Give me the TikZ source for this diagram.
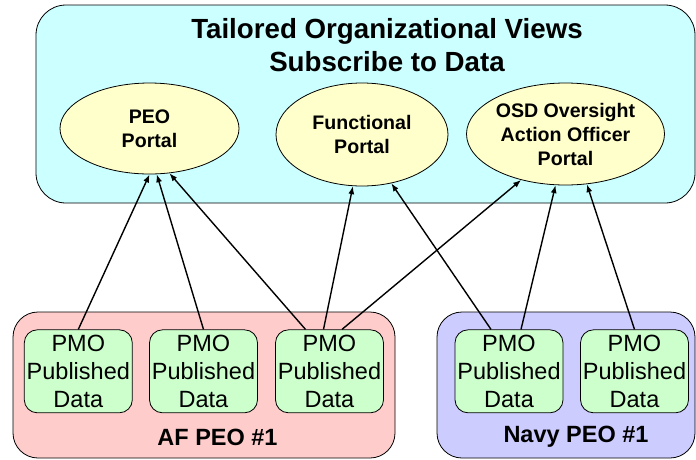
\documentclass[tikz,border=0pt]{standalone}
\usepackage{fontspec}
\setmainfont{Liberation Sans}
\usetikzlibrary{shapes.geometric,arrows.meta}
\definecolor{viewfill}{HTML}{CCFFFF}
\definecolor{portalfill}{HTML}{FFFFCC}
\definecolor{affill}{HTML}{FFCCCC}
\definecolor{navyfill}{HTML}{CCCCFF}
\definecolor{pmofill}{HTML}{CCFFCC}
\begin{document}
\begin{tikzpicture}[x=1pt,y=-1pt,
  panel/.style={draw=black, line width=0.8pt, rounded corners=#1, inner sep=0pt},
  portal/.style={ellipse, draw=black, line width=0.8pt, fill=portalfill, inner sep=0pt,
    align=center, font=\fontsize{19.6}{24}\selectfont\bfseries},
  pmo/.style={draw=black, line width=0.8pt, fill=pmofill, rounded corners=13pt,
    minimum width=108pt, minimum height=83pt, inner sep=0pt, align=center,
    font=\fontsize{23.5}{28.3}\selectfont},
  grouplabel/.style={font=\fontsize{23.5}{28}\selectfont\bfseries},
  link/.style={line width=1.4pt, -{Latex[length=8pt,width=6pt]}}
]
\useasboundingbox (0,0) rectangle (696,459);

% panels
\node[panel=30pt, fill=viewfill, minimum width=659pt, minimum height=198pt] (views) at (365.5,104) {};
\node[panel=25pt, fill=affill, minimum width=382pt, minimum height=146pt] (af) at (204,385) {};
\node[panel=25pt, fill=navyfill, minimum width=258pt, minimum height=146pt] (navy) at (566,385) {};

% title
\node[align=center, font=\fontsize{27.7}{33}\selectfont\bfseries] (title) at (387,45.5)
  {Tailored Organizational Views\\Subscribe to Data};

% portals
\node[portal, minimum width=179pt, minimum height=91pt] (peo) at (149.5,128.5) {PEO\\Portal};
\node[portal, minimum width=172pt, minimum height=103pt] (func) at (362,134.5) {Functional\\Portal};
\node[portal, minimum width=198pt, minimum height=102pt] (osd) at (565.5,134) {OSD Oversight\\Action Officer\\Portal};

% PMO boxes
\node[pmo] (p1) at (78.3,371.3) {PMO\\Published\\Data};
\node[pmo] (p2) at (203.5,371.3) {PMO\\Published\\Data};
\node[pmo] (p3) at (329.5,371.3) {PMO\\Published\\Data};
\node[pmo] (p4) at (509,371.3) {PMO\\Published\\Data};
\node[pmo] (p5) at (634.5,371.3) {PMO\\Published\\Data};

% group labels
\node[grouplabel] (aflabel) at (217.5,437) {AF PEO \#1};
\node[grouplabel] (navylabel) at (576,437) {Navy PEO \#1};

% connectors
\draw[link] (p1.north) -- (peo.-90);
\draw[link] (p2.north) -- (peo.-81);
\draw[link] ([xshift=-24pt]p3.north) -- (peo.-66);
\draw[link] ([xshift=-6pt]p3.north) -- (func.-100);
\draw[link] ([xshift=12.5pt]p3.north) -- (osd.-134);
\draw[link] ([xshift=-18pt]p4.north) -- (func.-59);
\draw[link] ([xshift=12pt]p4.north) -- (osd.-101);
\draw[link] (p5.north) -- (osd.-67);
\end{tikzpicture}
\end{document}
